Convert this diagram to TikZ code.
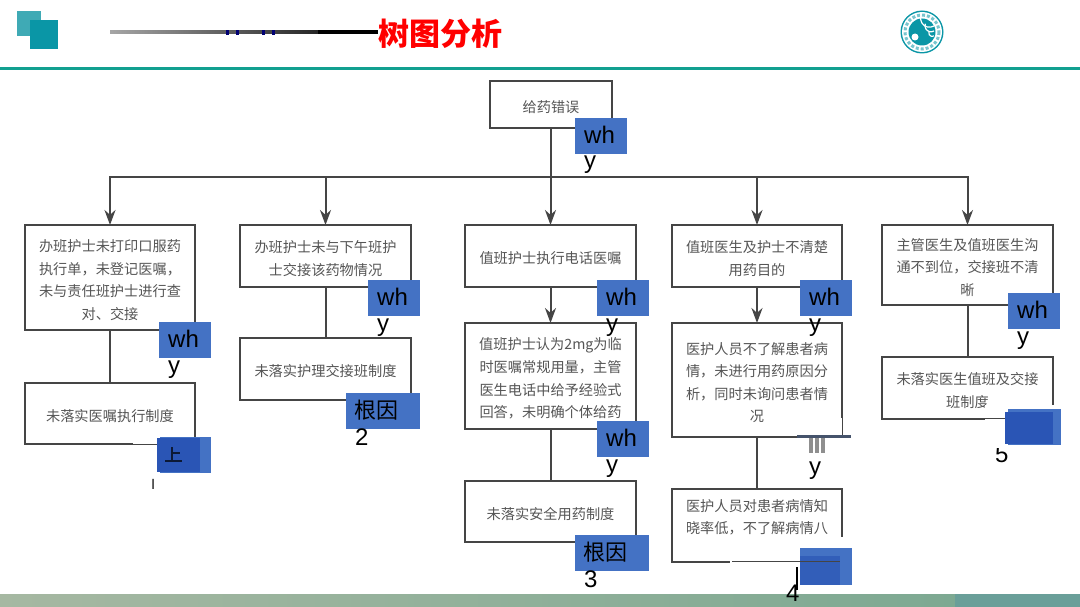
\documentclass[tikz,border=0pt]{standalone}
\usepackage{fontspec}
\setmainfont{Liberation Sans}
\newfontfamily\cjk{Noto Sans CJK SC}
\usetikzlibrary{arrows.meta}
\definecolor{tealrule}{HTML}{12A090}
\definecolor{lightsq}{HTML}{3FAAB5}
\definecolor{darksq}{HTML}{0A96A6}
\definecolor{boxline}{HTML}{454545}
\definecolor{boxtext}{HTML}{555555}
\definecolor{pptblue}{HTML}{4472C4}
\definecolor{smudge}{HTML}{2A55B5}
\definecolor{bandL}{HTML}{A6B8A2}
\definecolor{bandR}{HTML}{7DA992}
\definecolor{bandE}{HTML}{6A9F99}
\tikzset{
  flowbox/.style={draw=boxline,line width=2pt,fill=white,anchor=north west,inner sep=0pt,outer sep=0pt},
  flowlabel/.style={inner sep=0pt,outer sep=0pt,yshift=-2.5pt,align=center,text=boxtext,font=\cjk\fontsize{14.2}{22.6}\selectfont},
  link/.style={draw=boxline,line width=2pt},
  arrowlink/.style={link,-{Stealth[length=15pt,width=11pt]}},
  bluetag/.style={fill=pptblue,anchor=north west,inner sep=0pt,outer sep=0pt},
  tagtext/.style={anchor=base west,inner sep=0pt,text=black,font=\fontsize{24}{24}\selectfont},
  tagcjk/.style={anchor=base west,inner sep=0pt,text=black,font=\cjk\fontsize{22}{22}\selectfont},
  patch/.style={fill=white,draw=none},
}
% name, x, y, width, height, text
\newcommand{\flowcell}[6]{%
  \node[flowbox,minimum width=#4pt,minimum height=#5pt,label={[flowlabel]center:{#6}}] (#1) at (#2,#3) {};
}
% name, x, y: blue tag with the wrapped word why
\newcommand{\whytag}[3]{%
  \node[bluetag,minimum width=52pt,minimum height=36pt] (#1) at (#2,#3) {};
  \node[tagtext] (#1w) at ([xshift=9pt,yshift=-25.5pt]#1.north west) {wh};
  \node[tagtext] (#1y) at ([xshift=9pt,yshift=-51pt]#1.north west) {y};
}
\newcommand{\roottag}[4]{%
  \node[bluetag,minimum width=74pt,minimum height=36pt] (#1) at (#2,#3) {};
  \node[tagcjk] (#1w) at ([xshift=8pt,yshift=-25pt]#1.north west) {根因};
  \node[tagtext] (#1y) at ([xshift=9pt,yshift=-52pt]#1.north west) {#4};
}
\begin{document}
\begin{tikzpicture}[x=1pt,y=-1pt]
\useasboundingbox (0,0) rectangle (1080,607);
\fill[white] (0,0) rectangle (1080,607);

% header
\fill[lightsq] (17,11) rectangle (41,36);
\fill[darksq] (30,20) rectangle (58,49);
\fill[left color=gray!70,right color=black!85] (110,30.8) rectangle (318,33.6);
\fill[black] (318,30.5) rectangle (378,34.5);
\foreach \sx in {226,236,262,272}{\fill[blue!45!black] (\sx,29.8) rectangle (\sx+3,35.5);}
\node[anchor=base west,inner sep=0pt,text=red,font=\cjk\bfseries\fontsize{31}{31}\selectfont] (title) at (378,46) {树图分析};
\fill[tealrule] (0,67.5) rectangle (1080,70.5);

% logo
\fill[darksq] (922,32) circle (21.5);
\fill[white] (922,32) circle (20);
\draw[darksq!55!white,line width=3pt,dotted] (922,32) circle (17);
\fill[darksq] (922,32) circle (13.5);
\fill[white] (915,37) circle (3.5);
\draw[white,line width=1.2pt] (934,26) arc (60:200:9);
\draw[white,line width=1.2pt] (934,31) arc (60:200:6);
\draw[white,line width=1.2pt] (934,36) arc (60:200:3.5);

% bottom band
\fill[left color=bandL,right color=bandR] (0,594) rectangle (955,607);
\fill[bandE] (955,594) rectangle (1080,607);

% boxes
\flowcell{top}{490}{81}{122}{47}{给药错误}

\flowcell{b1}{25}{225}{170}{105}{办班护士未打印口服药\\执行单，未登记医嘱，\\未与责任班护士进行查\\对、交接}
\flowcell{b1r}{25}{383}{170}{61}{未落实医嘱执行制度}

\flowcell{b2}{240}{225}{171}{62}{办班护士未与下午班护\\士交接该药物情况}
\flowcell{b2r}{240}{338}{171}{62}{未落实护理交接班制度}

\flowcell{b3}{465}{225}{171}{62}{值班护士执行电话医嘱}
\flowcell{b3m}{465}{323}{171}{106}{值班护士认为2mg为临\\时医嘱常规用量，主管\\医生电话中给予经验式\\回答，未明确个体给药}
\flowcell{b3r}{465}{481}{171}{61}{未落实安全用药制度}

\flowcell{b4}{672}{225}{170}{62}{值班医生及护士不清楚\\用药目的}
\flowcell{b4m}{672}{323}{170}{114}{医护人员不了解患者病\\情，未进行用药原因分\\析，同时未询问患者情\\况}
\flowcell{b4r}{672}{489}{170}{73}{医护人员对患者病情知\\晓率低，不了解病情八\\\mbox{}}

\flowcell{b5}{882}{225}{171}{80}{主管医生及值班医生沟\\通不到位，交接班不清\\晰}
\flowcell{b5r}{882}{357}{171}{62}{未落实医生值班及交接\\班制度}

% connectors
\coordinate (bus) at (top.south |- 0,177);
\coordinate (busL) at (b1.north |- bus);
\coordinate (busR) at (b5.north |- bus);
\draw[link] (top.south) -- (bus);
\draw[link,line cap=rect] (busL) -- (busR);
\draw[arrowlink] (busL) -- (b1.north);
\draw[arrowlink] (b2.north |- bus) -- (b2.north);
\draw[arrowlink] (b3.north |- bus) -- (b3.north);
\draw[arrowlink] (b4.north |- bus) -- (b4.north);
\draw[arrowlink] (busR) -- (b5.north);
\draw[link] (b1.south) -- (b1r.north);
\draw[link] (b2.south) -- (b2r.north);
\draw[arrowlink] (b3.south) -- (b3m.north);
\draw[link] (b3m.south) -- (b3r.north);
\draw[arrowlink] (b4.south) -- (b4m.north);
\draw[link] (b4m.south) -- (b4r.north);
\draw[link] (b5.south) -- (b5r.north);

% smudged patches
\fill[patch] (133,442) rectangle (160,447);
\draw[boxline,line width=1pt] (133,444) -- (160,444);
\fill[patch] (800,418) rectangle (856,460);
\draw[boxline,line width=1pt] (842,417) -- (842,436);
\draw[boxline!70!pptblue,line width=2.4pt] (797,436.5) -- (851,436.5);
\foreach \sx in {809,815,821}{\fill[boxline!60!white] (\sx,438) rectangle (\sx+3.5,453);}
\fill[patch] (730,537) rectangle (845,564);
\fill[patch] (985,405) rectangle (1060,422);
\draw[boxline,line width=1pt] (982,418.5) -- (1008,418.5);

% blue tags
\whytag{t0}{575}{118}
\whytag{t1}{159}{322}
\whytag{t2}{368}{280}
\whytag{t3}{597}{280}
\whytag{t3m}{597}{421}
\whytag{t4}{800}{280}
\whytag{t5}{1008}{293}
\roottag{r2}{346}{393}{2}
\roottag{r3}{575}{535}{3}

% y of the overwritten tag in column four
\node[tagtext] (t4my) at (809,474) {y};

% overwritten root tags
\fill[pptblue] (160,437) rectangle (211,473);
\fill[smudge] (157,438) rectangle (200,472);
\fill[black!70!smudge] (171,447) rectangle (173,462);
\fill[black!70!smudge] (165,460) rectangle (182,462);
\fill[black!70!smudge] (173,452) rectangle (180,454);
\node[anchor=base west,inner sep=0pt,text=black,font=\fontsize{14}{14}\selectfont] (r1y) at (151.5,489) {l};

\fill[pptblue] (800,548) rectangle (852,585);
\fill[smudge!70!pptblue] (800,556) rectangle (840,585);
\draw[boxline,line width=1pt] (732,561.5) -- (840,561.5);
\draw[black,line width=1.4pt] (797,567) -- (797,590);
\node[tagtext] (r4y) at (786,601) {4};

\node[tagtext] (r5y) at (995,462) {5};
\fill[patch] (990,440) rectangle (1013,448);
\fill[pptblue] (1008,409) rectangle (1061,445);
\fill[smudge] (1005,412) rectangle (1053,444);
\end{tikzpicture}
\end{document}
